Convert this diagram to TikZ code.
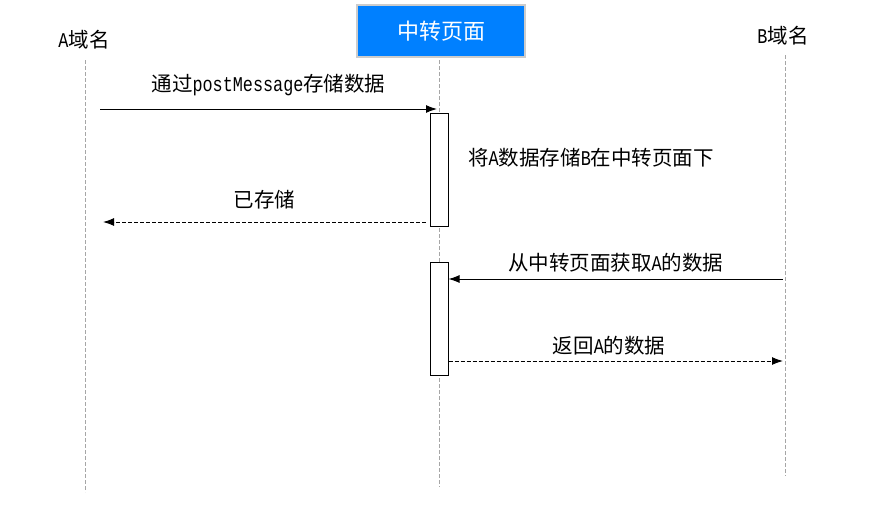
\documentclass[tikz,border=0pt]{standalone}
\usepackage{fontspec}
\newfontfamily\cjk{Noto Sans CJK SC}
\newfontfamily\lat[FakeStretch=0.8]{Liberation Mono}
\newcommand\en[1]{{\lat\fontsize{21}{24}\selectfont #1}}
\usetikzlibrary{arrows.meta}
\definecolor{headblue}{RGB}{0,128,255}

\begin{document}
\begin{tikzpicture}[x=1pt,y=-1pt,
	lifeline/.style={draw=gray!70,dash pattern=on 4pt off 2pt,line width=1pt},
	msg/.style={-{Latex[length=11pt,width=8pt]},line width=1pt},
	reply/.style={msg,dash pattern=on 4pt off 2pt},
	label/.style={font=\cjk\fontsize{20.5}{24}\selectfont,inner sep=0pt},
	act/.style={draw,fill=white,line width=1pt,minimum width=18pt,minimum height=113pt,inner sep=0pt}]
	\useasboundingbox (0,0) rectangle (895,506);

	% participants
	\node[label] (A) at (84,40) {\en{A}域名};
	\node[label,fill=headblue,draw=gray!40,line width=1.5pt,text=white,
		font=\cjk\fontsize{22}{26}\selectfont,minimum width=168pt,minimum height=52pt] (mid) at (441,31) {中转页面};
	\node[label] (B) at (783,36) {\en{B}域名};

	\coordinate (Atop) at (85,60);
	\coordinate (Abot) at (85,492);
	\coordinate (Mtop) at (439,60);
	\coordinate (Mbot) at (439,487);
	\coordinate (Btop) at (785,55);
	\coordinate (Bbot) at (785,476);
	\draw[lifeline] (Atop) -- (Abot);
	\draw[lifeline] (Mtop) -- (Mbot);
	\draw[lifeline] (Btop) -- (Bbot);

	% activations
	\node[act] (act1) at (439,170) {};
	\node[act] (act2) at (439,318.5) {};

	% messages
	\coordinate (m1s) at (100,109);
	\coordinate (m1e) at (437,109);
	\draw[msg] (m1s) -- (m1e) node[label,midway,above=13pt] (t1) {通过\en{postMessage}存储数据};
	\node[label,anchor=west] (t2) at (468,158) {将\en{A}数据存储\en{B}在中转页面下};
	\coordinate (m2e) at (103,222);
	\draw[reply] (act1.west |- m2e) ++(-4,0) -- (m2e) node[label,pos=0.5,above=12pt] (t3) {已存储};
	\coordinate (m3s) at (783,279);
	\draw[msg] (m3s) -- (act2.east |- m3s) node[label,pos=0.5,above=6pt] (t4) {从中转页面获取\en{A}的数据};
	\coordinate (m4e) at (783,361);
	\draw[reply] (act2.east |- m4e) -- (m4e) node[label,pos=0.48,above=5pt] (t5) {返回\en{A}的数据};
\end{tikzpicture}
\end{document}
